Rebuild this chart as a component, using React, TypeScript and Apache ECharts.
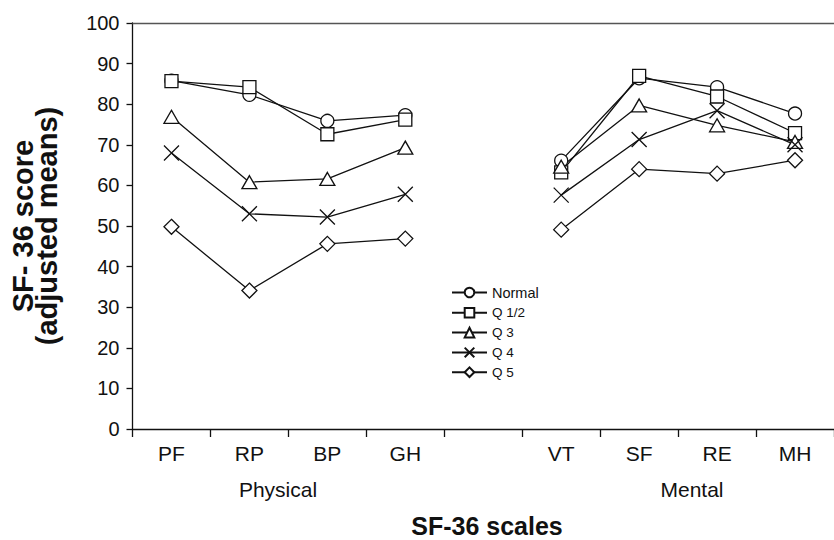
import React, { useEffect, useRef } from "react";
import * as echarts from "echarts";

const categories = ["PF", "RP", "BP", "GH", "", "VT", "SF", "RE", "MH"];
const groupLabels = ["Physical", "Mental"];
const seriesNames = ["Normal", "Q 1/2", "Q 3", "Q 4", "Q 5"];
const normal = [85.8, 82.3, 75.9, 77.3, null, 66.1, 86.4, 84.2, 77.7];
const q12 = [85.7, 84.2, 72.6, 76.2, null, 63.2, 87.0, 81.9, 72.9];
const q3 = [76.9, 60.8, 61.6, 69.3, null, 64.6, 79.7, 74.8, 70.7];
const q4 = [68.0, 53.0, 52.2, 57.8, null, 57.6, 71.3, 78.4, 70.0];
const q5 = [49.8, 34.1, 45.6, 46.9, null, 49.1, 64.0, 62.9, 66.2];
const yTicks = [0, 10, 20, 30, 40, 50, 60, 70, 80, 90, 100];

const xPath = "path://M0,0L10,10M10,0L0,10";
const symbols = ["circle", "rect", "triangle", xPath, "diamond"];
const sizes: any[] = [13, 13, [15, 13], 15, 15];
const values = [normal, q12, q3, q4, q5];

export default function App() {
  const ref = useRef<HTMLDivElement>(null);
  useEffect(() => {
    const chart = echarts.init(ref.current!, null, { renderer: "svg" });
    const font = "'Liberation Sans', Arial, sans-serif";
    chart.setOption({
      animation: false,
      backgroundColor: "#fff",
      textStyle: { fontFamily: font },
      grid: { left: 132, top: 23, width: 713, height: 406 },
      legend: {
        orient: "vertical",
        left: 451,
        top: 285,
        padding: 0,
        itemWidth: 35,
        itemHeight: 12,
        itemGap: 5.8,
        data: seriesNames,
        formatter: (n: string) => (n === "Normal" ? `{n|${n}}` : `{q|${n}}`),
        textStyle: {
          color: "#111",
          fontFamily: font,
          lineHeight: 14,
          rich: {
            n: { fontSize: 14.5, lineHeight: 14, color: "#111", fontFamily: font },
            q: { fontSize: 13.5, lineHeight: 14, color: "#111", fontFamily: font },
          },
        },
      },
      xAxis: [
        {
          type: "category",
          data: categories,
          boundaryGap: true,
          axisLine: { lineStyle: { color: "#111", width: 1.3 } },
          axisTick: { show: true, length: 8, inside: false, lineStyle: { color: "#111", width: 1.3 } },
          axisLabel: { fontSize: 21, color: "#111", margin: 14, fontFamily: font },
        },
        {
          type: "category",
          position: "top",
          data: categories,
          axisLine: { lineStyle: { color: "#555", width: 1.3 } },
          axisTick: { show: false },
          axisLabel: { show: false },
        },
      ],
      yAxis: {
        type: "value",
        min: 0,
        max: 100,
        interval: 10,
        splitLine: { show: false },
        axisLine: { show: true, lineStyle: { color: "#111", width: 1.3 } },
        axisTick: { show: true, length: 6, lineStyle: { color: "#111", width: 1.3 } },
        axisLabel: { fontSize: 20, color: "#111", margin: 13, fontFamily: font },
        name: "SF- 36 score\n(adjusted means)",
        nameLocation: "middle",
        nameGap: 74,
        nameTextStyle: { fontSize: 29, fontWeight: "bold", color: "#111", lineHeight: 24, fontFamily: font },
      },
      graphic: [
        { type: "text", x: 278, y: 489, style: { text: groupLabels[0], fontSize: 21, fill: "#111", fontFamily: font, align: "center", verticalAlign: "middle" } },
        { type: "text", x: 692, y: 489, style: { text: groupLabels[1], fontSize: 21, fill: "#111", fontFamily: font, align: "center", verticalAlign: "middle" } },
        { type: "text", x: 487, y: 526, style: { text: "SF-36 scales", fontSize: 25, fontWeight: "bold", fill: "#111", fontFamily: font, align: "center", verticalAlign: "middle" } },
      ],
      series: seriesNames.map((name, i) => ({
        name,
        type: "line",
        data: values[i],
        connectNulls: false,
        symbol: symbols[i],
        symbolSize: sizes[i],
        showAllSymbol: true,
        lineStyle: { color: "#111", width: 1.3 },
        itemStyle: { color: "#fff", borderColor: "#111", borderWidth: 1.3 },
        emphasis: { disabled: true },
      })),
    });
    return () => chart.dispose();
  }, []);
  return <div ref={ref} style={{ position: "absolute", left: 0, top: 0, width: 834, height: 540 }} />;
}
